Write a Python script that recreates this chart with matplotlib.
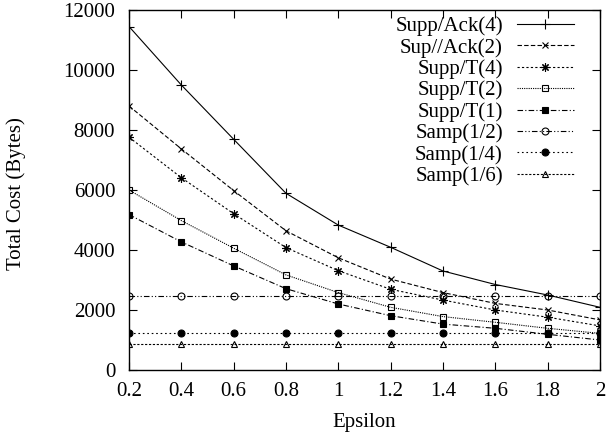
import matplotlib
matplotlib.use("Agg")
from matplotlib import pyplot as plt

plt.rcParams["font.family"] = ["Liberation Serif", "DejaVu Serif"]
plt.rcParams["font.size"] = 11

eps = [0.2, 0.4, 0.6, 0.8, 1.0, 1.2, 1.4, 1.6, 1.8, 2.0]

supp_ack4 = [11450, 9500, 7690, 5890, 4830, 4090, 3300, 2850, 2500, 2090]
sup_ack2 = [8800, 7370, 5980, 4640, 3740, 3030, 2580, 2220, 2000, 1670]
supp_t4 = [7760, 6410, 5210, 4080, 3310, 2690, 2330, 2000, 1760, 1470]
supp_t2 = [6000, 4980, 4060, 3170, 2580, 2090, 1780, 1590, 1390, 1220]
supp_t1 = [5180, 4270, 3470, 2710, 2200, 1810, 1530, 1390, 1190, 1000]
samp_2 = [2470] * 10
samp_4 = [1250] * 10
samp_6 = [850] * 10

names = ["Supp/Ack(4)", "Sup//Ack(2)", "Supp/T(4)", "Supp/T(2)", "Supp/T(1)",
         "Samp(1/2)", "Samp(1/4)", "Samp(1/6)"]
series = [supp_ack4, sup_ack2, supp_t4, supp_t2, supp_t1, samp_2, samp_4, samp_6]

styles = [
    dict(marker="+", ls="-", ms=7, mfc="none"),
    dict(marker="x", ls=(0, (4, 2)), ms=5, mfc="none"),
    dict(marker=(8, 2, 0), ls=(0, (2, 2)), ms=6, mfc="none"),
    dict(marker="s", ls=(0, (1, 1)), ms=5, mfc="none"),
    dict(marker="s", ls=(0, (5, 2, 1, 2)), ms=5, mfc="black"),
    dict(marker="o", ls=(0, (5, 2, 1, 2, 1, 2)), ms=5, mfc="none"),
    dict(marker="o", ls=(0, (1.5, 2.5)), ms=5, mfc="black"),
    dict(marker="^", ls=(0, (2, 1.5)), ms=5, mfc="none"),
]

fig = plt.figure(figsize=(6.08, 4.41), dpi=100)
ax = fig.add_axes([0.2122, 0.161, 0.7746, 0.8163])

for nm, ys, st in zip(names, series, styles):
    ax.plot(eps, ys, color="black", lw=0.8, mec="black", mew=0.8, label=nm, **st)

ax.set_xlim(0.2, 2.0)
ax.set_ylim(0, 12000)
ax.set_xticks([0.2, 0.4, 0.6, 0.8, 1, 1.2, 1.4, 1.6, 1.8, 2])
ax.set_xticklabels(["0.2", "0.4", "0.6", "0.8", "1", "1.2", "1.4", "1.6", "1.8", "2"])
ax.set_yticks(range(0, 12001, 2000))
ax.tick_params(direction="in", top=True, right=True, length=6, width=0.8,
               labelsize=15)
ax.tick_params(axis="x", pad=9)
ax.tick_params(axis="y", pad=10)
for s in ax.spines.values():
    s.set_linewidth(1.0)

ax.set_xlabel("Epsilon", fontsize=15, labelpad=8)
ax.set_ylabel("Total Cost (Bytes)", fontsize=15, va="center")
ax.yaxis.set_label_coords(-0.24, 0.49)

# texts sit right-aligned against the samples, like gnuplot's key
ax.legend(loc="upper right", bbox_to_anchor=(0.945, 0.982), frameon=False,
          markerfirst=False, fontsize=15, handlelength=2.75, labelspacing=0.08,
          handletextpad=0.67, borderaxespad=0, borderpad=0)

fig.savefig("out.png", dpi=100)
